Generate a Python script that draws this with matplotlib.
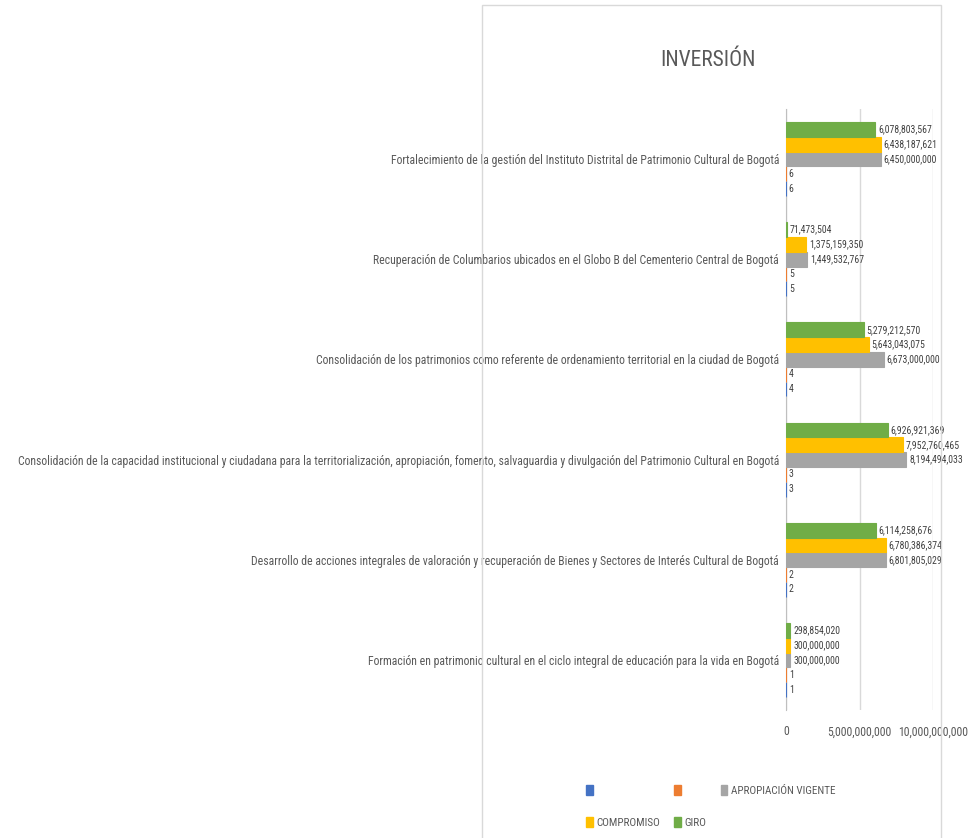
import matplotlib
matplotlib.use("Agg")
import matplotlib.pyplot as plt
import numpy as np
from matplotlib import font_manager
from matplotlib.patches import Rectangle, Patch

# ----------- DATA ------------
categories = [
    "Formación en patrimonio cultural en el ciclo integral de educación para la vida en Bogotá",
    "Desarrollo de acciones integrales de valoración y recuperación de Bienes y Sectores de Interés Cultural de Bogotá",
    "Consolidación de la capacidad institucional y ciudadana para la territorialización, apropiación, fomento, salvaguardia y divulgación del Patrimonio Cultural en Bogotá",
    "Consolidación de los patrimonios como referente de ordenamiento territorial en la ciudad de Bogotá",
    "Recuperación de Columbarios ubicados en el Globo B del Cementerio Central de Bogotá",
    "Fortalecimiento de la gestión del Instituto Distrital de Patrimonio Cultural de Bogotá",
]
serie1 = [1, 2, 3, 4, 5, 6]
serie2 = [1, 2, 3, 4, 5, 6]
apropiacion = [300000000, 6801805029, 8194494033, 6673000000, 1449532767, 6450000000]
compromiso = [300000000, 6780386374, 7952760465, 5643043075, 1375159350, 6438187621]
giro = [298854020, 6114258676, 6926921369, 5279212570, 71473504, 6078803567]
x_ticks = [0, 5000000000, 10000000000]

# ----------- FONT ------------
font_name = "DejaVu Sans"
for name in ["Liberation Sans Narrow", "DejaVu Sans Condensed", "Roboto Condensed", "Open Sans Condensed"]:
    try:
        font_manager.findfont(name, fallback_to_default=False)
        font_name = name
        break
    except Exception:
        pass
plt.rcParams["font.family"] = [font_name, "DejaVu Sans"]

# ----------- FIGURE ------------
fig = plt.figure(figsize=(9.69, 8.38), dpi=100)
ax = fig.add_axes([786 / 969, 1 - 710 / 838, 147 / 969, 601 / 838])

colors = ["#4472C4", "#ED7D31", "#A5A5A5", "#FFC000", "#70AD47"]
series = [serie1, serie2, apropiacion, compromiso, giro]
names = ["", "", "APROPIACIÓN VIGENTE", "COMPROMISO", "GIRO"]

y = np.arange(len(categories))
h = 0.148
for k, (vals, col) in enumerate(zip(series, colors)):
    b = ax.barh(y + (k - 2) * h, vals, height=h, color=col, edgecolor=col, linewidth=0.8, zorder=3)
    ax.bar_label(b, labels=[f"{v:,}" for v in vals], padding=2, fontsize=7, color="#404040")

ax.set_xlim(0, 10000000000)
ax.set_ylim(-0.5, len(categories) - 0.5)
ax.set_xticks(x_ticks)
ax.set_xticklabels([f"{t:,}" for t in x_ticks], fontsize=8.5, color="#595959")
ax.set_yticks(y)
ax.set_yticklabels(categories, fontsize=8.5, color="#595959")
ax.tick_params(length=0, pad=5)
ax.tick_params(axis="x", pad=11)
ax.grid(axis="x", color="#d9d9d9", linewidth=1, zorder=0)
for s in ["top", "right", "bottom"]:
    ax.spines[s].set_visible(False)
ax.spines["left"].set_color("#bfbfbf")

# title
fig.text(708 / 969, 1 - 61 / 838, "INVERSIÓN", ha="center", va="center", fontsize=15.5, color="#595959")

# chart area border
fig.add_artist(Rectangle((482 / 969, -0.01), (941 - 482) / 969, 1.01 - 5 / 838,
                         transform=fig.transFigure, fill=False, edgecolor="#d9d9d9", linewidth=1))

# legend (ordered so rows read like the original)
handles = [Patch(color=c) for c in colors]
order = [0, 3, 1, 4, 2]
fig.legend([handles[i] for i in order], [names[i] if names[i] else " " for i in order],
           ncol=3, loc="upper left", bbox_to_anchor=(576 / 969, 1 - 775 / 838),
           frameon=False, fontsize=8, labelcolor="#595959",
           handlelength=0.6, handleheight=1.0, handletextpad=0.3, columnspacing=1.3,
           labelspacing=1.9)

fig.savefig("out.png", dpi=100, facecolor="white")
